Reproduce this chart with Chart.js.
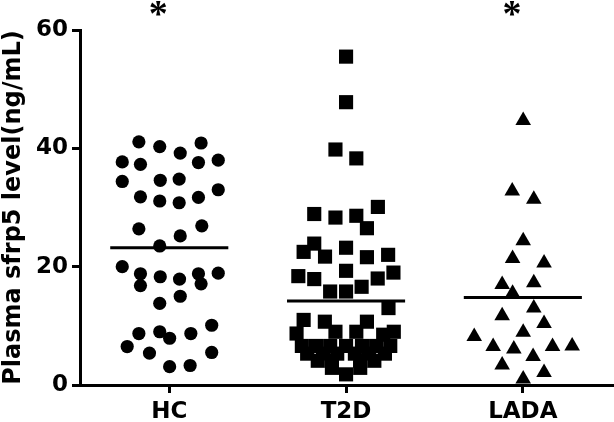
<!DOCTYPE html>
<html>
<head>
<meta charset="utf-8">
<script src="https://cdn.jsdelivr.net/npm/chart.js@4.4.1/dist/chart.umd.min.js"></script>
<style>
  html, body { margin: 0; padding: 0; background: #ffffff; }
  #wrap { width: 614px; height: 422px; }
</style>
</head>
<body>
<div id="wrap"><canvas id="c" width="614" height="422"></canvas></div>
<script>
// ---- data ----
const categories = ['HC', 'T2D', 'LADA'];
const yTicks = [0, 20, 40, 60];
const yTitle = 'Plasma sfrp5 level(ng/mL)';
const significance = ['*', '', '*'];

const hcValues = [41.1,40.3,40.9,37.7,37.3,39.2,37.6,38.0,34.4,34.6,34.8,31.8,31.1,30.8,31.7,33.0,26.4,25.2,26.9,23.5,20.0,18.8,16.8,18.3,17.9,18.8,17.1,18.9,13.8,15.0,8.7,9.0,7.9,8.7,10.1,6.5,5.4,5.5,3.1,3.3];
const hcJitter = [-0.172,-0.054,0.18,-0.266,-0.163,0.062,0.165,0.277,-0.266,-0.051,0.056,-0.163,-0.054,0.056,0.165,0.277,-0.172,0.062,0.184,-0.054,-0.266,-0.163,-0.163,-0.051,0.058,0.165,0.18,0.277,-0.054,0.062,-0.172,-0.054,0.002,0.122,0.24,-0.238,-0.112,0.24,0.002,0.118];

const t2dValues = [55.5,47.8,39.8,38.3,30.1,28.9,28.3,28.6,26.5,23.9,22.5,21.7,23.2,21.6,22.0,18.4,17.9,19.3,18.0,19.0,15.8,15.8,16.6,13.0,11.0,10.7,10.7,9.0,9.0,8.7,9.0,8.5,
  6.6,6.6,6.6,6.6,6.6,6.6,6.6, 5.3,5.3,5.3,5.3,5.3,5.3, 4.1,4.1,4.1,4.1, 2.9,2.9, 1.8];
const t2dJitter = [0,0,-0.06,0.058,0.18,-0.18,-0.06,0.058,0.118,-0.18,-0.24,-0.119,0,0.118,0.238,-0.27,-0.18,0,0.179,0.268,-0.09,0,0.088,0.24,-0.24,-0.12,0.118,-0.06,0.058,-0.28,0.27,0.21,
  -0.25,-0.17,-0.09,0,0.09,0.17,0.25, -0.22,-0.13,-0.05,0.05,0.13,0.22, -0.16,-0.08,0.08,0.16, -0.08,0.08, 0];

const ladaValues = [44.7,32.8,31.4,24.4,21.4,20.6,17.0,17.3,15.5,13.0,11.7,10.4,8.9,8.2,6.5,6.1,6.5,6.6,4.8,3.4,2.1,1.0];
const ladaJitter = [0.002,-0.06,0.062,0.002,-0.058,0.12,-0.117,0.062,-0.058,0.062,-0.117,0.12,0.002,-0.275,-0.168,-0.051,0.168,0.279,0.058,-0.117,0.12,0.002];

const means = [23.2, 14.2, 14.8];

// ---- build chart ----
const groups = [
  { values: hcValues, jitter: hcJitter, style: 'circle', radius: 6.6 },
  { values: t2dValues, jitter: t2dJitter, style: 'rect', radius: 10 },
  { values: ladaValues, jitter: ladaJitter, style: 'triangle', radius: 9 }
];
const meanHalfWidth = 0.334;

const datasets = [];
groups.forEach((g, i) => {
  datasets.push({
    type: 'scatter',
    label: categories[i],
    data: g.values.map((v, k) => ({ x: i + 1 + g.jitter[k], y: v })),
    pointStyle: g.style,
    pointRadius: g.radius,
    pointHoverRadius: g.radius,
    pointBackgroundColor: '#000',
    pointBorderColor: '#000',
    pointBorderWidth: 0,
    clip: false
  });
});
means.forEach((m, i) => {
  datasets.push({
    type: 'line',
    label: categories[i] + ' mean',
    data: [{ x: i + 1 - meanHalfWidth, y: m }, { x: i + 1 + meanHalfWidth, y: m }],
    borderColor: '#000',
    borderWidth: 3,
    pointRadius: 0,
    showLine: true,
    fill: false,
    clip: false
  });
});

const sigPlugin = {
  id: 'sig',
  afterDatasetsDraw(chart) {
    const ctx = chart.ctx;
    const xs = chart.scales.x, ys = chart.scales.y;
    ctx.save();
    ctx.fillStyle = '#000';
    ctx.font = 'bold 38px "Liberation Serif"';
    ctx.textAlign = 'center';
    ctx.textBaseline = 'middle';
    significance.forEach((s, i) => {
      if (!s) return;
      ctx.fillText(s, xs.getPixelForValue(i + 1 - 0.062), ys.getPixelForValue(62.4));
    });
    ctx.restore();
  }
};

new Chart(document.getElementById('c'), {
  type: 'scatter',
  data: { datasets },
  plugins: [sigPlugin],
  options: {
    responsive: false,
    animation: false,
    devicePixelRatio: 1,
    layout: { autoPadding: false, padding: { top: 30, right: 1, left: 0, bottom: 0 } },
    plugins: { legend: { display: false }, tooltip: { enabled: false } },
    scales: {
      x: {
        type: 'linear',
        min: 0.495,
        max: 3.51,
        afterBuildTicks: (s) => { s.ticks = categories.map((c, i) => ({ value: i + 1 })); },
        afterFit: (s) => { s.height = 37; s.paddingLeft = 0; s.paddingRight = 0; },
        ticks: {
          callback: (v) => categories[v - 1] || '',
          color: '#000',
          font: { family: '"DejaVu Sans"', size: 23, weight: 'bold' },
          padding: 5,
          maxRotation: 0,
          autoSkip: false
        },
        grid: { drawOnChartArea: false, drawTicks: true, tickLength: 8, lineWidth: 3, color: '#000' },
        border: { display: true, color: '#000', width: 3 }
      },
      y: {
        type: 'linear',
        min: 0,
        max: 60,
        afterBuildTicks: (s) => { s.ticks = yTicks.map(v => ({ value: v })); },
        afterFit: (s) => { s.width = 80; s.paddingTop = 0; s.paddingBottom = 0; },
        ticks: {
          color: '#000',
          font: { family: '"DejaVu Sans"', size: 23, weight: 'bold' },
          padding: 4
        },
        title: {
          display: true,
          text: yTitle,
          color: '#000',
          font: { family: '"DejaVu Sans"', size: 24, weight: 'bold', lineHeight: 1.0 },
          padding: { top: 2, bottom: 0 }
        },
        grid: { drawOnChartArea: false, drawTicks: true, tickLength: 8, lineWidth: 3, color: '#000' },
        border: { display: true, color: '#000', width: 3 }
      }
    }
  }
});
</script>
</body>
</html>
